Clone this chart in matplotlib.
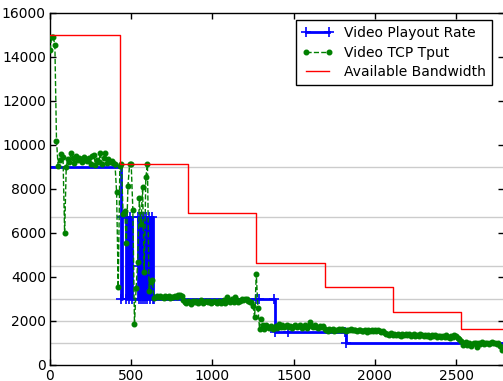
import numpy as np
import matplotlib
matplotlib.use("Agg")
import matplotlib.pyplot as plt

# ---------------- data ----------------
bitrate_levels = [1000, 2000, 3000, 4500, 6750, 9000]

bw_t = [0, 430, 850, 1270, 1690, 2110, 2530, 2800]
bw_v = [15000, 9150, 6900, 4650, 3560, 2400, 1650, 1650]

play_t = [0, 435, 445, 467, 477, 487, 495, 502, 539, 545, 550, 555, 560, 566,
          572, 578, 584, 590, 595, 611, 616, 626, 632, 640, 1270, 1285, 1382,
          1384, 1465, 1818, 1820, 2800]
play_v = [9000, 3000, 6750, 3000, 6750, 3000, 6750, 3000, 6750, 3000, 4500, 6750,
          3000, 6750, 3000, 6750, 3000, 6750, 3000, 6750, 3000, 6750, 3000, 3000,
          3000, 3000, 3000, 1500, 1500, 1500, 1000, 1000]

tput_t = list(range(0, 2790, 10))
tput_v = [
    14300, 14900, 14900, 14550, 10200, 9050, 9320, 9600, 9470, 6000,
    9000, 9350, 9250, 9650, 9400, 9200, 9500, 9300, 9420, 9380,
    9250, 9450, 9350, 9280, 9400, 9150, 9500, 9550, 9100, 9300,
    9250, 9620, 9150, 9400, 9650, 9200, 9350, 9250, 9280, 9200,
    9150, 7850, 3530, 9050, 9120, 6850, 7000, 5530, 8150, 9120,
    9120, 7050, 1850, 3480, 4700, 7570, 6400, 8080, 4240, 8530,
    9120, 3360, 3790, 3860, 3050, 3100, 3120, 3080, 3150, 3100,
    3060, 3120, 3090, 3140, 3050, 3110, 3080, 3130, 3100, 3180,
    3200, 3120, 2950, 2880, 2820, 2900, 2850, 2780, 2930, 2860,
    2900, 2830, 2870, 2950, 2800, 2880, 2920, 2850, 2890, 2820,
    2870, 2930, 2860, 2810, 2900, 2840, 2880, 2950, 2820, 3080,
    2900, 2870, 2980, 2850, 3100, 2950, 2880, 2920, 2990, 2950,
    3020, 2980, 2930, 2880, 2850, 2700, 2170, 4140, 2600, 1640,
    2100, 1820, 1650, 1800, 1720, 1680, 1780, 1620, 1700, 1760,
    1690, 1850, 1740, 1800, 1710, 1770, 1820, 1730, 1790, 1680,
    1760, 1840, 1720, 1780, 1810, 1700, 1750, 1820, 1690, 1770,
    1960, 1760, 1720, 1800, 1740, 1680, 1770, 1710, 1790, 1640,
    1600, 1560, 1630, 1580, 1650, 1540, 1610, 1590, 1620, 1570,
    1640, 1600, 1560, 1610, 1580, 1630, 1600, 1570, 1590, 1550,
    1600, 1570, 1530, 1560, 1590, 1520, 1580, 1550, 1600, 1540,
    1570, 1530, 1610, 1560, 1500, 1550, 1470, 1420, 1400, 1380,
    1440, 1360, 1400, 1350, 1420, 1380, 1330, 1400, 1360, 1410,
    1350, 1390, 1320, 1380, 1410, 1340, 1370, 1300, 1390, 1350,
    1330, 1380, 1310, 1360, 1290, 1350, 1320, 1370, 1280, 1340,
    1300, 1260, 1330, 1280, 1350, 1270, 1240, 1310, 1280, 1360,
    1300, 1250, 1200, 1100, 900, 980, 1050, 920, 1000, 880,
    960, 1020, 980, 830, 1010, 950, 1040, 970, 1000, 1020,
    960, 1000, 1040, 980, 1010, 950, 990, 880, 700,
]

x_ticks = [0, 500, 1000, 1500, 2000, 2500]
y_ticks = list(range(0, 16001, 2000))

# ---------------- plot ----------------
fig = plt.figure(figsize=(5.03, 3.81), dpi=100)
ax = fig.add_axes([50 / 503, 16 / 381, 454 / 503, 352 / 381])

for lvl in bitrate_levels:
    ax.axhline(lvl, color="#cccccc", lw=1.0, zorder=0)

ax.plot(play_t, play_v, color="#0000ff", lw=2, marker="+", ms=7, mew=1.2,
        drawstyle="steps-post", label="Video Playout Rate", zorder=2)
ax.plot(tput_t, tput_v, color="#008000", lw=1, ls="--", marker="o", ms=3.3,
        mec="#008000", label="Video TCP Tput", zorder=3)
ax.plot(bw_t, bw_v, color="#ff0000", lw=1, drawstyle="steps-post",
        label="Available Bandwidth", zorder=4)

ax.set_xticks(x_ticks)
ax.set_yticks(y_ticks)
ax.set_xlim(0, 2795)
ax.set_ylim(0, 16000)
ax.tick_params(direction="in", top=True, right=True, length=4, width=1,
               labelsize=10, pad=3)
for s in ax.spines.values():
    s.set_linewidth(1.0)

leg = ax.legend(loc="upper right", bbox_to_anchor=(0.9736, 0.980),
                borderaxespad=0, fontsize=10,
                numpoints=2, fancybox=False, framealpha=1, edgecolor="black",
                handlelength=2.2, borderpad=0.45, labelspacing=0.38)
leg.get_frame().set_linewidth(1.0)

fig.savefig("out.png", dpi=100)
